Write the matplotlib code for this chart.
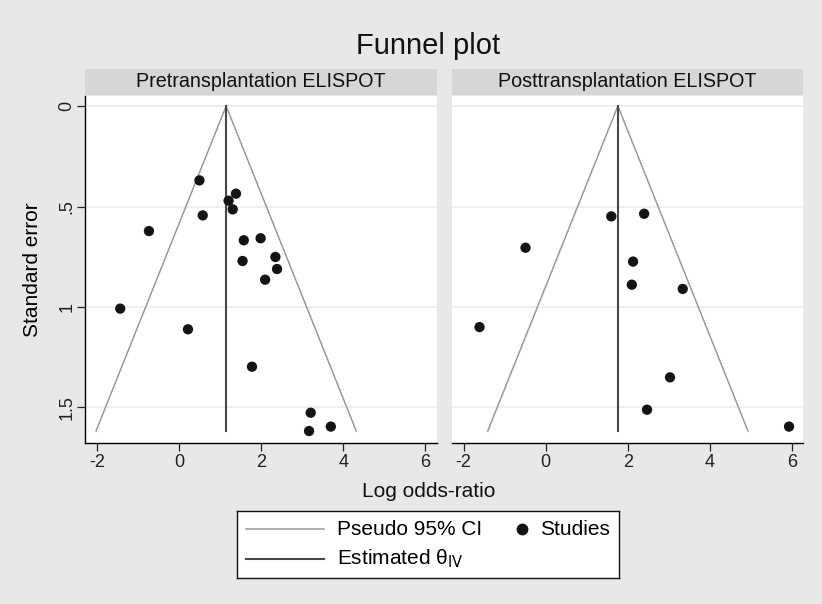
# Funnel plot of log odds-ratios vs standard error, pre and post transplantation ELISPOT
import matplotlib.pyplot as plt
from matplotlib.patches import Rectangle

plt.rcParams['font.family'] = ['Liberation Sans', 'DejaVu Sans']

# Data
panel_titles = ['Pretransplantation ELISPOT', 'Posttransplantation ELISPOT']

pre_logor = [0.50, 1.39, 1.21, 1.31, 0.58, -0.73, 1.58, 1.99, 2.35, 1.55,
             2.39, 2.10, -1.43, 0.22, 1.78, 3.21, 3.70, 3.17]
pre_se = [0.370, 0.436, 0.471, 0.514, 0.544, 0.622, 0.668, 0.658, 0.751, 0.771,
          0.811, 0.864, 1.008, 1.111, 1.297, 1.526, 1.595, 1.617]

post_logor = [1.60, 2.40, -0.49, 2.13, 2.10, 3.34, -1.61, 3.03, 2.47, 5.93]
post_se = [0.549, 0.536, 0.705, 0.774, 0.889, 0.910, 1.100, 1.350, 1.511, 1.595]

# Estimated theta (inverse-variance) per panel
theta = [1.15, 1.76]

x_ticks = [-2, 0, 2, 4, 6]
y_ticks = [0, 0.5, 1, 1.5]
y_ticklabels = ['0', '.5', '1', '1.5']

bg_color = '#e8e8e8'
strip_color = '#d6d6d6'
ci_color = '#999999'
est_color = '#474747'
dot_color = '#141414'

fig = plt.figure(figsize=(8.22, 6.04), dpi=100, facecolor=bg_color)

# axes positions in figure fractions
ax1 = fig.add_axes([0.1038, 0.2671, 0.4275, 0.574])
ax2 = fig.add_axes([0.5499, 0.2671, 0.4275, 0.574])

se_max = max(pre_se + post_se)
data = [(pre_logor, pre_se), (post_logor, post_se)]

for i, ax in enumerate([ax1, ax2]):
    x, se = data[i]
    t = theta[i]
    ax.set_facecolor('white')
    ax.set_xlim(-2.28, 6.28)
    ax.set_ylim(1.675, -0.05)
    ax.set_yticks(y_ticks)
    ax.set_xticks(x_ticks)
    ax.set_xticklabels([str(v) for v in x_ticks], fontsize=13)
    ax.grid(axis='y', color='#ececec', linewidth=1.2, zorder=0)
    ax.set_axisbelow(True)

    # pseudo 95% confidence limits
    ax.plot([t - 1.96 * se_max, t, t + 1.96 * se_max], [se_max, 0, se_max],
            color=ci_color, linewidth=1.1, zorder=2)
    # estimated effect
    ax.plot([t, t], [0, se_max], color=est_color, linewidth=1.5, zorder=2)
    # studies
    ax.scatter(x, se, s=55, color=dot_color, edgecolors='none', zorder=3)

    for side in ['top', 'right']:
        ax.spines[side].set_visible(False)
    ax.spines['bottom'].set_linewidth(1.0)
    ax.spines['left'].set_linewidth(1.0)
    ax.tick_params(axis='x', length=6, width=0.9, pad=2.2, colors='#222222')

    # panel strip
    ax.add_patch(Rectangle((0, 1.003), 1, 0.075, transform=ax.transAxes,
                           facecolor=strip_color, edgecolor='none', clip_on=False))
    ax.text(0.5, 1.027, panel_titles[i], transform=ax.transAxes, ha='center',
            va='baseline', fontsize=14.2, color='#111111')

ax1.set_yticklabels(y_ticklabels, rotation=90, va='center', fontsize=13)
ax1.tick_params(axis='y', length=5.5, width=0.9, pad=1.5, colors='#222222')
ax1.set_ylabel('Standard error', fontsize=15)
ax1.yaxis.set_label_coords(-0.123, 0.5)

ax2.spines['left'].set_visible(False)
ax2.tick_params(axis='y', left=False, labelleft=False)

fig.text(0.5213, 1 - 54 / 604, 'Funnel plot', ha='center', va='baseline',
         fontsize=21, color='#111111')
fig.text(0.5213, 1 - 497 / 604, 'Log odds-ratio', ha='center', va='baseline',
         fontsize=15, color='#111111')

# legend box
leg = fig.add_axes([0.2887, 0.0435, 0.4644, 0.1109])
leg.set_xlim(0, 1)
leg.set_ylim(1, 0)
leg.set_xticks([])
leg.set_yticks([])
leg.set_facecolor('white')
for s in leg.spines.values():
    s.set_linewidth(1.0)
    s.set_color('#111111')

leg.plot([0.023, 0.227], [0.28, 0.28], color=ci_color, linewidth=1.1)
leg.text(0.261, 0.28, 'Pseudo 95% CI', va='center', fontsize=15)
leg.plot([0.746], [0.28], 'o', color=dot_color, markersize=7.5)
leg.text(0.792, 0.28, 'Studies', va='center', fontsize=15)
leg.plot([0.023, 0.227], [0.72, 0.72], color=est_color, linewidth=1.5)
leg.text(0.261, 0.72, 'Estimated \u03b8$_{\\mathrm{IV}}$', va='center', fontsize=15)

plt.savefig('out.png', dpi=100, facecolor=bg_color)
